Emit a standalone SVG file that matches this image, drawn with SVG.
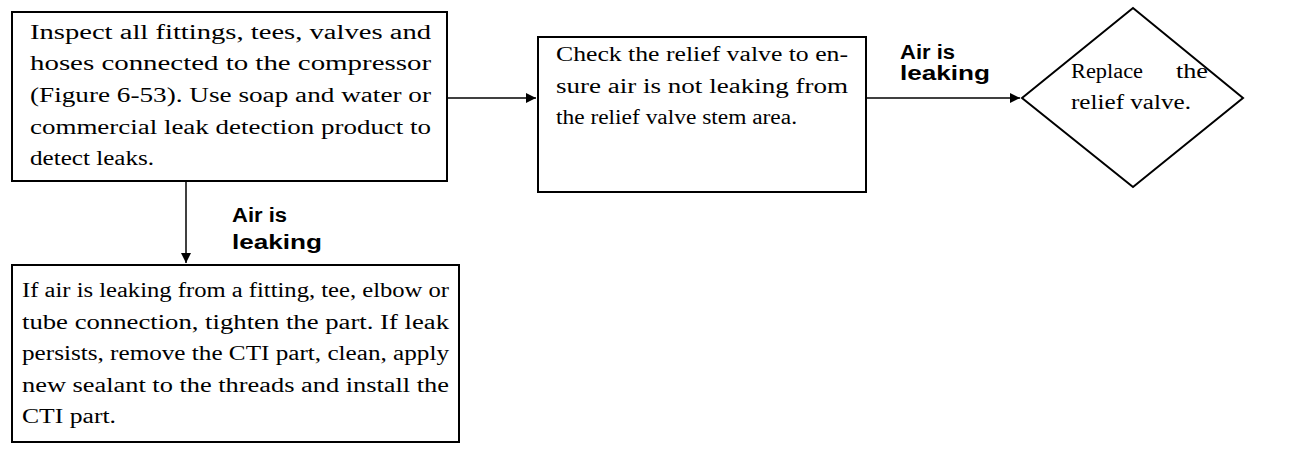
<svg xmlns="http://www.w3.org/2000/svg" width="1306" height="450" viewBox="0 0 1306 450">
<style>
.b{fill:#fff;stroke:#000;stroke-width:2}
.t{font-family:"Liberation Serif",serif;font-size:20.5px;fill:#000}
.l{font-family:"Liberation Sans",sans-serif;font-size:20px;font-weight:bold;fill:#000}
.c{stroke:#000;stroke-width:1.5;fill:none}
</style>
<defs><marker id="a" viewBox="0 0 10 10" refX="10" refY="5" markerWidth="10" markerHeight="10" markerUnits="userSpaceOnUse" orient="auto"><path d="M0,0L10,5L0,10z" fill="#000"/></marker></defs>
<g id="connectors">
<path class="c" d="M447,98H536" marker-end="url(#a)"/>
<path class="c" d="M866,98H1020" marker-end="url(#a)"/>
<path class="c" d="M186,181V263" marker-end="url(#a)"/>
<text class="l" x="900" y="59" textLength="55" lengthAdjust="spacingAndGlyphs">Air is</text><text class="l" x="900" y="80" textLength="90" lengthAdjust="spacingAndGlyphs">leaking</text>
<text class="l" x="232" y="222" textLength="55" lengthAdjust="spacingAndGlyphs">Air is</text><text class="l" x="232" y="249" textLength="90" lengthAdjust="spacingAndGlyphs">leaking</text>
</g>
<g id="n1"><rect class="b" x="12" y="12" width="435" height="169"/>
<text class="t" x="30" y="39" textLength="401" lengthAdjust="spacingAndGlyphs">Inspect all fittings, tees, valves and</text>
<text class="t" x="30" y="70" textLength="401" lengthAdjust="spacingAndGlyphs">hoses connected to the compressor</text>
<text class="t" x="30" y="102" textLength="401" lengthAdjust="spacingAndGlyphs">(Figure 6-53). Use soap and water or</text>
<text class="t" x="30" y="134" textLength="401" lengthAdjust="spacingAndGlyphs">commercial leak detection product to</text>
<text class="t" x="30" y="165" textLength="124" lengthAdjust="spacingAndGlyphs">detect leaks.</text></g>
<g id="n2"><rect class="b" x="538" y="37" width="328" height="155"/>
<text class="t" x="556" y="61" textLength="292" lengthAdjust="spacingAndGlyphs">Check the relief valve to en-</text>
<text class="t" x="556" y="93" textLength="292" lengthAdjust="spacingAndGlyphs">sure air is not leaking from</text>
<text class="t" x="556" y="124" textLength="241" lengthAdjust="spacingAndGlyphs">the relief valve stem area.</text></g>
<g id="n3"><path class="b" d="M1022,98L1133,8L1243,98L1133,187Z"/>
<text class="t" x="1071" y="78" textLength="72" lengthAdjust="spacingAndGlyphs">Replace</text>
<text class="t" x="1176" y="78" textLength="32" lengthAdjust="spacingAndGlyphs">the</text>
<text class="t" x="1071" y="109" textLength="120" lengthAdjust="spacingAndGlyphs">relief valve.</text></g>
<g id="n4"><rect class="b" x="12" y="265" width="447" height="177"/>
<text class="t" x="22" y="297" textLength="427" lengthAdjust="spacingAndGlyphs">If air is leaking from a fitting, tee, elbow or</text>
<text class="t" x="22" y="329" textLength="427" lengthAdjust="spacingAndGlyphs">tube connection, tighten the part. If leak</text>
<text class="t" x="22" y="360" textLength="427" lengthAdjust="spacingAndGlyphs">persists, remove the CTI part, clean, apply</text>
<text class="t" x="22" y="392" textLength="427" lengthAdjust="spacingAndGlyphs">new sealant to the threads and install the</text>
<text class="t" x="22" y="423" textLength="94" lengthAdjust="spacingAndGlyphs">CTI part.</text></g>
</svg>
